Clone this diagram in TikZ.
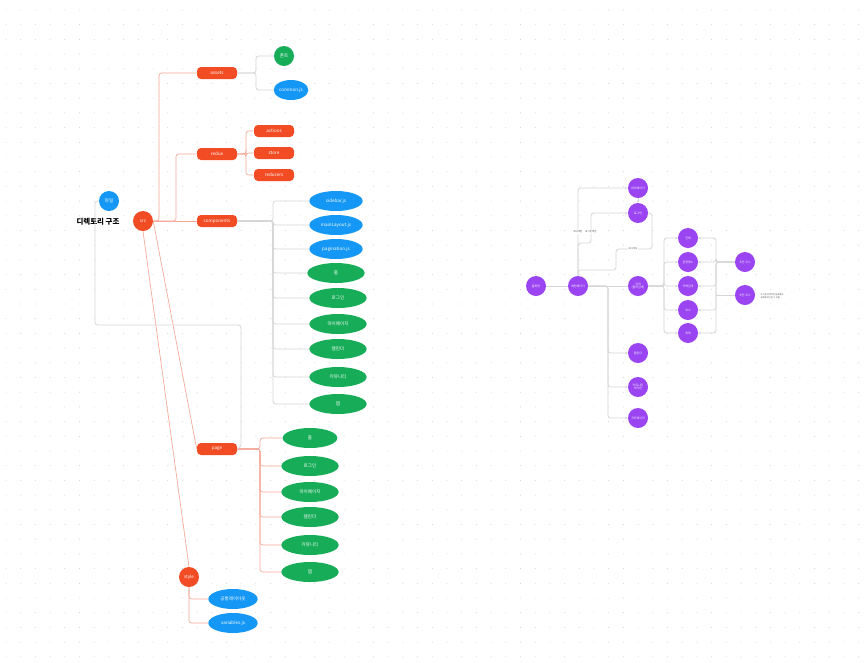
\documentclass[tikz,border=0pt]{standalone}
\usepackage{fontspec}
\setmainfont{Noto Sans CJK KR}
\usetikzlibrary{shapes.geometric,arrows.meta}
\definecolor{orgc}{HTML}{F24C24}
\definecolor{bluc}{HTML}{1497F5}
\definecolor{grnc}{HTML}{17AD58}
\definecolor{purc}{HTML}{9B44F2}
\definecolor{salc}{HTML}{F6A898}
\definecolor{gryc}{HTML}{D6D6D6}
\definecolor{dotc}{HTML}{CCCCCC}
\tikzset{
  tiny/.style={font=\fontsize{3.4}{3.8}\selectfont, text=white, align=center},
  fold/.style={tiny, fill=orgc, rounded corners=3pt, minimum width=30pt, minimum height=9pt, inner sep=0pt},
  foldc/.style={tiny, fill=orgc, circle, minimum size=15pt, inner sep=0pt},
  filec/.style={tiny, fill=bluc, circle, minimum size=15pt, inner sep=0pt},
  fileo/.style={tiny, fill=bluc, ellipse, minimum width=40pt, minimum height=15pt, inner sep=0pt},
  pgo/.style={tiny, fill=grnc, ellipse, minimum width=43pt, minimum height=15pt, inner sep=0pt},
  pgc/.style={tiny, fill=grnc, circle, minimum size=15pt, inner sep=0pt},
  pur/.style={tiny, fill=purc, circle, minimum size=15pt, inner sep=0pt, font=\fontsize{2.2}{2.6}\selectfont},
  sline/.style={draw=salc, line width=0.5pt, rounded corners=2pt},
  gline/.style={draw=gryc, line width=0.6pt, rounded corners=2pt},
  garr/.style={gline, -{Stealth[length=2pt,width=2pt]}},
  elab/.style={font=\fontsize{1.8}{2}\selectfont, text=black!70, inner sep=0.5pt, fill=white}
}
\begin{document}
\begin{tikzpicture}[x=0.75pt,y=-0.75pt]
\useasboundingbox (0,0) rectangle (864,662);
\fill[white] (0,0) rectangle (864,662);
\foreach \i in {0,...,58}{\foreach \j in {0,...,45}{\fill[dotc] (\i*14.7+6,\j*14.7+10) circle (0.35pt);}}

% ---------- left tree ----------
\node[font=\bfseries\fontsize{5.6}{6}\selectfont] (title) at (98,222) {디렉토리 구조};
\node[filec] (file) at (109,201) {파일};
\node[foldc] (src) at (143,221) {src};
\node[fold] (assets) at (217,73) {assets};
\node[fold] (redux) at (217,154) {redux};
\node[fold] (comp) at (217,221) {components};
\node[fold] (pg) at (217,449) {page};
\node[foldc] (style) at (189,577) {style};

\node[pgc] (font) at (284,56) {폰트};
\node[fileo, minimum width=26pt] (common) at (291,90) {common.js};

\node[fold] (act) at (274,131) {actions};
\node[fold] (store) at (274,153) {store};
\node[fold] (red) at (274,175) {reducers};

\node[fileo] (c1) at (336,201) {sidebar.js};
\node[fileo] (c2) at (336,225) {mainLayout.js};
\node[fileo] (c3) at (336,249) {pagination.js};
\node[pgo] (c4) at (336,273) {홈};
\node[pgo] (c5) at (338,298) {로그인};
\node[pgo] (c6) at (338,324) {마이페이지};
\node[pgo] (c7) at (338,349) {캘린더};
\node[pgo] (c8) at (338,377) {커뮤니티};
\node[pgo] (c9) at (338,404) {맵};

\node[pgo, minimum width=41pt] (p1) at (310,438) {홈};
\node[pgo] (p2) at (310,466) {로그인};
\node[pgo] (p3) at (310,492) {마이페이지};
\node[pgo] (p4) at (310,517) {캘린더};
\node[pgo] (p5) at (310,545) {커뮤니티};
\node[pgo] (p6) at (310,572) {맵};

\node[fileo, minimum width=37pt] (s1) at (233,599) {공통레이아웃};
\node[fileo, minimum width=37pt] (s2) at (233,623) {variables.js};

% connectors src
\draw[sline] (src.east) -- (159,221) -- (159,73) -- (assets.west);
\draw[sline] (src.east) -- (176,221) -- (176,154) -- (redux.west);
\draw[sline] (src.east) -- (comp.west);
\draw[sline] (src.east) -- (pg.west);
\draw[sline] (src.south) -- (style.north);
% assets
\draw[gline] (assets.east) -- (256,73) -- (256,56) -- (font.west);
\draw[gline] (assets.east) -- (256,73) -- (256,90) -- (common.west);
% redux
\foreach \n in {act,store,red}{\draw[sline] (redux.east) -- (246,154) |- (\n.west);}
% components
\foreach \n in {c1,c2,c3,c4,c5,c6,c7,c8,c9}{\draw[gline] (comp.east) -- (273,221) |- (\n.west);}
% page
\foreach \n in {p1,p2,p3,p4,p5,p6}{\draw[sline] (pg.east) -- (260,449) |- (\n.west);}
% style
\draw[sline] (style.south) -- (189,599) -- (s1.west);
\draw[sline] (style.south) -- (189,623) -- (s2.west);
% file
\draw[gline] (file.west) -- (95,201) -- (95,325) -- (241,325) -- (241,447) -- (pg.east);

% ---------- right graph ----------
\node[pur] (A) at (536,286) {홈화면};
\node[pur] (B) at (578,286) {메인페이지};
\node[pur] (C) at (638,188) {마이페이지};
\node[pur] (D) at (638,213) {로그인};
\node[pur] (E) at (638,286) {검색\\(필터검색)};
\node[pur] (F) at (638,353) {캘린더};
\node[pur] (G) at (638,387) {커뮤니티\\게시판};
\node[pur] (H) at (638,418) {지도페이지};
\node[pur] (I1) at (688,238) {전체};
\node[pur] (I2) at (688,262) {관광명소};
\node[pur] (I3) at (688,286) {지역검색};
\node[pur] (I4) at (688,310) {숙소};
\node[pur] (I5) at (688,333) {축제};
\node[pur] (J1) at (745,262) {추천 코스};
\node[pur] (J2) at (745,295) {추천 코스};
\node[font=\fontsize{1.6}{1.9}\selectfont, text=black!70, align=left, anchor=west] (note) at (756,296) {코스를 선택하면 상세정보\\경로를 확인할 수 있음};

\draw[gline] (A.east) -- (B.west);
\draw[garr] (B.north) -- (578,188) -- (C.west);
\node[elab] (l1) at (578,232) {메뉴버튼};
\draw[garr] (B.north) -- (578,243) -- (591,243) -- (591,213) -- (D.west);
\node[elab] (l2) at (591,232) {로그인버튼};
\draw[gline] (D.east) -- (652,213) -- (652,249) -- (616,249) -- (616,270) -- (578,270) -- (B.north);
\node[elab] (l3) at (633,249) {로그아웃};
\draw[garr] (C.south) -- (D.north);
\draw[gline] (B.east) -- (E.west);
\draw[garr] (B.east) -- (608,286) |- (F.west);
\draw[garr] (B.east) -- (608,286) |- (G.west);
\draw[garr] (B.east) -- (608,286) |- (H.west);
\foreach \n in {I1,I2,I3,I4,I5}{
  \draw[garr] (E.east) -- (664,286) |- (\n.west);
  \draw[garr] (J1.west) -- (716,262) |- (\n.east);
}
\draw[gline] (J2.west) -- (716,295);
\end{tikzpicture}
\end{document}
